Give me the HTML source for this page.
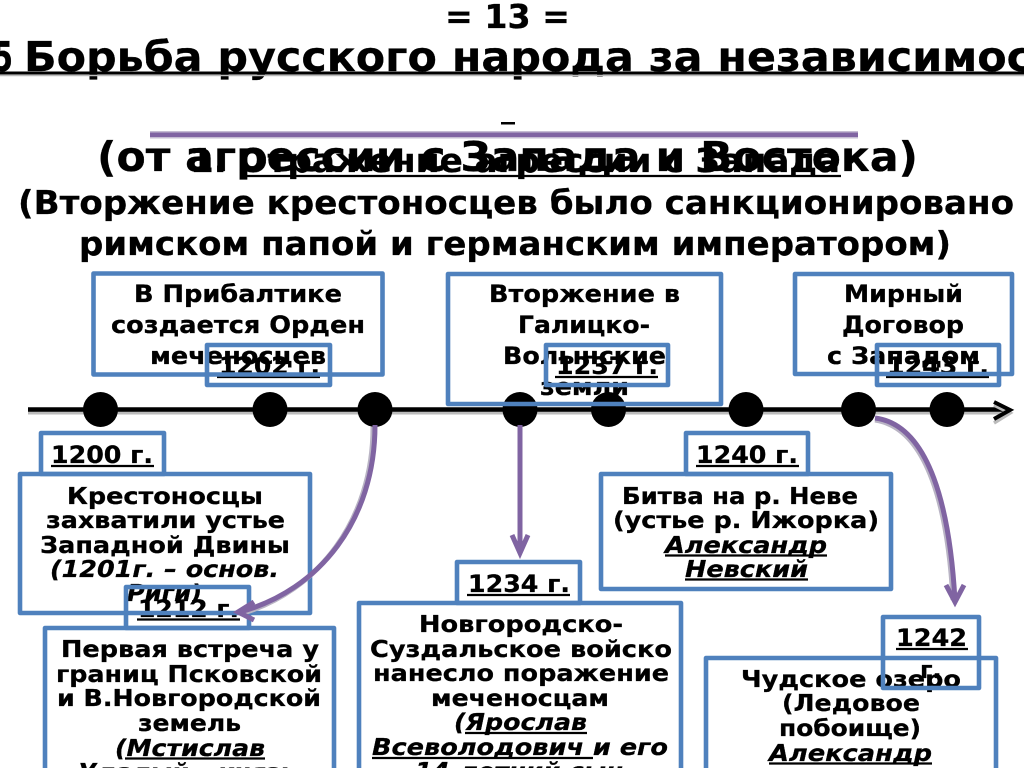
<!DOCTYPE html>
<html lang="ru"><head><meta charset="utf-8"><title>Борьба русского народа</title>
<style>
html,body{margin:0;padding:0;background:#fff;width:1024px;height:768px;overflow:hidden}
svg{display:block}
text{font-family:"DejaVu Sans",sans-serif;font-weight:bold;fill:#000;font-size:24px;stroke:#000;stroke-width:.3px}
.l{font-size:41px}.m{font-size:33px}.s{font-size:23.5px}.i{font-style:italic}
.b{fill:none;stroke:#4f81bd;stroke-width:4.6;stroke-linejoin:round}
.u{stroke:#000;stroke-width:2.2}
.p{fill:none;stroke:#8064a2;stroke-width:5}
.sh{fill:none;stroke:#b9b4c4;stroke-width:5}
</style></head><body>
<svg width="1024" height="768" viewBox="0 0 1024 768" xmlns="http://www.w3.org/2000/svg">
<text x="445" y="28" class="m" textLength="125" lengthAdjust="spacingAndGlyphs">= 13 =</text>
<text x="-42" y="71" class="l" textLength="55" lengthAdjust="spacingAndGlyphs">§15</text>
<text x="24" y="71" class="l" textLength="1008" lengthAdjust="spacingAndGlyphs">Борьба русского народа за независимос</text>
<text x="1032" y="71" class="l">ть</text>
<line x1="0" y1="73" x2="1024" y2="73" stroke="#000" stroke-width="3"/>
<line x1="0" y1="75.500" x2="1024" y2="75.500" stroke="#bbb" stroke-width="1.500"/>
<rect x="501" y="122" width="14" height="2.500"/>
<rect x="150" y="131" width="708" height="7.500" fill="#c5bcd2"/>
<rect x="150" y="132.500" width="708" height="4.500" fill="#8064a2"/>
<text x="190" y="172" class="m" textLength="650" lengthAdjust="spacingAndGlyphs">1. Отражение агрессии с Запада</text>
<line x1="243" y1="176" x2="841" y2="176" class="u"/>
<text x="97" y="171" class="l" textLength="821" lengthAdjust="spacingAndGlyphs">(от агрессии с Запада и Востока)</text>
<text x="18" y="214" class="m" textLength="996" lengthAdjust="spacingAndGlyphs">(Вторжение крестоносцев было санкционировано</text>
<text x="79" y="255" class="m" textLength="872" lengthAdjust="spacingAndGlyphs">римском папой и германским императором)</text>

<line x1="28" y1="413" x2="1008" y2="413" stroke="#bbb" stroke-width="3"/>
<line x1="28" y1="409.500" x2="1006" y2="409.500" stroke="#000" stroke-width="4.500"/>
<path d="M994 405 L1010 413 L994 423" fill="none" stroke="#bbb" stroke-width="3.500"/>
<path d="M994 402 L1010 410 L994 419" fill="none" stroke="#000" stroke-width="4"/>
<g>
<circle cx="100.500" cy="409.500" r="17.500"/><circle cx="270" cy="409.500" r="17.500"/><circle cx="375" cy="409.500" r="17.500"/><circle cx="520" cy="409.500" r="17.500"/><circle cx="608.500" cy="409.500" r="17.500"/><circle cx="746" cy="409.500" r="17.500"/><circle cx="858.500" cy="409.500" r="17.500"/><circle cx="947" cy="409.500" r="17.500"/>
</g>

<g transform="translate(0,-1)">
<text x="134" y="303" textLength="208" lengthAdjust="spacingAndGlyphs">В Прибалтике</text>
<text x="111" y="334" textLength="254" lengthAdjust="spacingAndGlyphs">создается Орден</text>
<text x="150" y="365" textLength="176" lengthAdjust="spacingAndGlyphs">меченосцев</text>
<text x="489" y="303" textLength="191" lengthAdjust="spacingAndGlyphs">Вторжение в</text>
<text x="518" y="334" textLength="132" lengthAdjust="spacingAndGlyphs">Галицко-</text>
<text x="503" y="365" textLength="163" lengthAdjust="spacingAndGlyphs">Волынские</text>
<text x="540" y="396" textLength="89" lengthAdjust="spacingAndGlyphs">земли</text>
<text x="844" y="303" textLength="119" lengthAdjust="spacingAndGlyphs">Мирный</text>
<text x="842" y="334" textLength="122" lengthAdjust="spacingAndGlyphs">Договор</text>
<text x="827" y="365" textLength="153" lengthAdjust="spacingAndGlyphs">с Западом</text>

<text x="219" y="375" textLength="101" lengthAdjust="spacingAndGlyphs">1202 г.</text><line x1="217" y1="378" x2="320" y2="378" class="u"/>
<text x="556" y="375" textLength="102" lengthAdjust="spacingAndGlyphs">1237 г.</text><line x1="555" y1="378" x2="658" y2="378" class="u"/>
<text x="887" y="375" textLength="102" lengthAdjust="spacingAndGlyphs">1243 г.</text><line x1="886" y1="378" x2="989" y2="378" class="u"/>

<text x="67" y="505" class="s" textLength="196" lengthAdjust="spacingAndGlyphs">Крестоносцы</text>
<text x="46" y="529" class="s" textLength="239" lengthAdjust="spacingAndGlyphs">захватили устье</text>
<text x="40" y="554" class="s" textLength="250" lengthAdjust="spacingAndGlyphs">Западной Двины</text>
<text x="50" y="578" class="s i" textLength="229" lengthAdjust="spacingAndGlyphs">(1201г. – основ.</text>
<text x="127" y="602" class="s i" textLength="75" lengthAdjust="spacingAndGlyphs">Риги)</text>
<text x="138" y="618" textLength="101" lengthAdjust="spacingAndGlyphs">1212 г.</text><line x1="137" y1="620.500" x2="240" y2="620.500" class="u"/>

<text x="61" y="658" class="s" textLength="258" lengthAdjust="spacingAndGlyphs">Первая встреча у</text>
<text x="56" y="683" class="s" textLength="266" lengthAdjust="spacingAndGlyphs">границ Псковской</text>
<text x="57" y="707" class="s" textLength="264" lengthAdjust="spacingAndGlyphs">и В.Новгородской</text>
<text x="138" y="732" class="s" textLength="103" lengthAdjust="spacingAndGlyphs">земель</text>
<text x="115" y="757" class="s i" textLength="150" lengthAdjust="spacingAndGlyphs">(Мстислав</text><line x1="125" y1="759.500" x2="265" y2="759.500" class="u"/>
<text x="78" y="781" class="s i" textLength="217" lengthAdjust="spacingAndGlyphs">Удалый – князь</text>

<text x="468" y="593" textLength="102" lengthAdjust="spacingAndGlyphs">1234 г.</text><line x1="467" y1="596" x2="570" y2="596" class="u"/>
<text x="419" y="633" class="s" textLength="204" lengthAdjust="spacingAndGlyphs">Новгородско-</text>
<text x="370" y="658" class="s" textLength="302" lengthAdjust="spacingAndGlyphs">Суздальское войско</text>
<text x="373" y="682" class="s" textLength="296" lengthAdjust="spacingAndGlyphs">нанесло поражение</text>
<text x="431" y="707" class="s" textLength="178" lengthAdjust="spacingAndGlyphs">меченосцам</text>
<text x="454" y="731" class="s i" textLength="133" lengthAdjust="spacingAndGlyphs">(Ярослав</text><line x1="465" y1="734" x2="587" y2="734" class="u"/>
<text x="372" y="756" class="s i" textLength="296" lengthAdjust="spacingAndGlyphs">Всеволодович и его</text><line x1="372" y1="759" x2="593" y2="759" class="u"/>
<text x="415" y="780" class="s i" textLength="208" lengthAdjust="spacingAndGlyphs">14-летний сын</text>

<text x="622" y="505" class="s" textLength="236" lengthAdjust="spacingAndGlyphs">Битва на р. Неве</text>
<text x="613" y="529" class="s" textLength="266" lengthAdjust="spacingAndGlyphs">(устье р. Ижорка)</text>
<text x="665" y="554" class="s i" textLength="162" lengthAdjust="spacingAndGlyphs">Александр</text><line x1="665" y1="556.500" x2="827" y2="556.500" class="u"/>
<text x="685" y="578" class="s i" textLength="123" lengthAdjust="spacingAndGlyphs">Невский</text><line x1="685" y1="580.500" x2="808" y2="580.500" class="u"/>

<text x="896" y="647" textLength="71" lengthAdjust="spacingAndGlyphs">1242</text><line x1="896" y1="650" x2="968" y2="650" class="u"/>
<text x="920" y="679">г.</text>
<text x="741" y="688" class="s" textLength="220" lengthAdjust="spacingAndGlyphs">Чудское озеро</text>
<text x="782" y="712" class="s" textLength="138" lengthAdjust="spacingAndGlyphs">(Ледовое</text>
<text x="779" y="737" class="s" textLength="142" lengthAdjust="spacingAndGlyphs">побоище)</text>
<text x="769" y="762" class="s i" textLength="163" lengthAdjust="spacingAndGlyphs">Александр</text><line x1="769" y1="764.500" x2="932" y2="764.500" class="u"/>
</g>
<text x="51" y="463" textLength="102" lengthAdjust="spacingAndGlyphs">1200 г.</text><line x1="51" y1="466" x2="154" y2="466" class="u"/>
<text x="696" y="463" textLength="102" lengthAdjust="spacingAndGlyphs">1240 г.</text><line x1="696" y1="466" x2="799" y2="466" class="u"/>

<rect class="b" x="93.500" y="273.500" width="289" height="101"/>
<rect class="b" x="207" y="345" width="123" height="40"/>
<rect class="b" x="448" y="274" width="273" height="130"/>
<rect class="b" x="546" y="345" width="122" height="40"/>
<rect class="b" x="795" y="274" width="217" height="100"/>
<rect class="b" x="877" y="345" width="122" height="40"/>
<rect class="b" x="41" y="433" width="123" height="41"/>
<rect class="b" x="20" y="474" width="290" height="139"/>
<rect class="b" x="686" y="433" width="122" height="41"/>
<rect class="b" x="601" y="474" width="290" height="115"/>
<rect class="b" x="126" y="587" width="123" height="41"/>
<rect class="b" x="45" y="628" width="289" height="172"/>
<rect class="b" x="457" y="562" width="123" height="41"/>
<rect class="b" x="359" y="603" width="322" height="197"/>
<rect class="b" x="883" y="617" width="96" height="71"/>
<rect class="b" x="706" y="658" width="290" height="142"/>

<path class="sh" d="M373 427 C373 520 318 592 240 614"/>
<path class="p" d="M375 425 C375 520 320 590 240 612"/>
<path class="p" d="M254 602 L238 612 L254 620"/>
<path class="p" d="M520 425 L520 552"/>
<path class="p" d="M512 535 L520 553 L528 535"/>
<path class="sh" d="M875 420 C928 428 948 510 953 600"/>
<path class="p" d="M875 418 C930 425 950 510 955 601"/>
<path class="p" d="M946 585 L955 602 L964 585"/>
</svg>
</body></html>
